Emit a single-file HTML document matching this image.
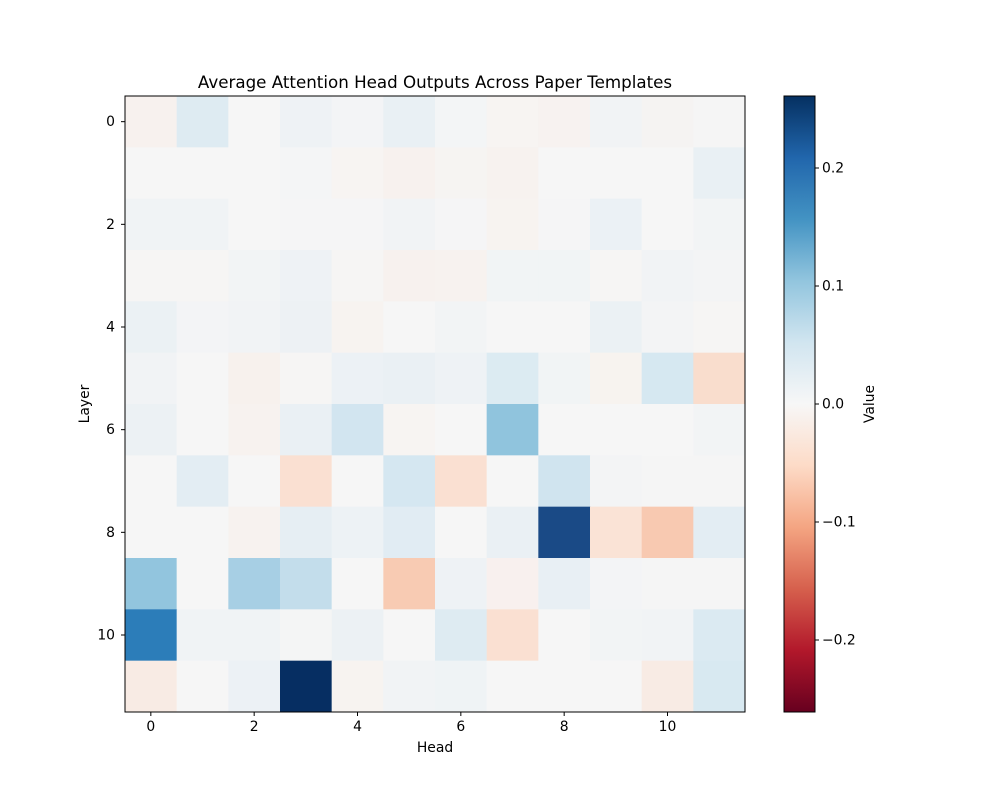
<!DOCTYPE html>
<html><head><meta charset="utf-8"><style>body{margin:0;background:#fff}svg{display:block;font-family:"DejaVu Sans","Liberation Sans",sans-serif}</style></head>
<body>
<svg width="1000" height="800" xmlns="http://www.w3.org/2000/svg">
<defs><linearGradient id="cb" x1="0" y1="1" x2="0" y2="0">
<stop offset="0" stop-color="#67001f"/><stop offset="0.1" stop-color="#b2182b"/><stop offset="0.2" stop-color="#d6604d"/><stop offset="0.3" stop-color="#f4a582"/><stop offset="0.4" stop-color="#fddbc7"/><stop offset="0.5" stop-color="#f7f7f7"/><stop offset="0.6" stop-color="#d1e5f0"/><stop offset="0.7" stop-color="#92c5de"/><stop offset="0.8" stop-color="#4393c3"/><stop offset="0.9" stop-color="#2166ac"/><stop offset="1" stop-color="#053061"/></linearGradient></defs>
<g id="cells"></g>
<rect x="125" y="96" width="620" height="616" fill="none" stroke="#000" stroke-width="1"/>
<rect x="784" y="96" width="31" height="616" fill="url(#cb)" stroke="#000" stroke-width="1"/>
<text x="435" y="88" font-size="16.7" text-anchor="middle">Average Attention Head Outputs Across Paper Templates</text>
<text x="435" y="752" font-size="13.9" text-anchor="middle">Head</text>
<text transform="translate(89,404) rotate(-90)" font-size="13.9" text-anchor="middle">Layer</text>
<text transform="translate(874,404) rotate(-90)" font-size="13.9" text-anchor="middle">Value</text>
<g id="ticks" font-size="13.9" stroke="#000"></g>
</svg>
<script>
const C=[
["f7f1ee","deebf2","f6f6f6","eef2f5","f3f4f6","e9f0f4","f3f5f6","f7f4f2","f7f2f0","f1f3f5","f5f3f2","f5f5f5"],
["f6f6f6","f6f6f6","f6f6f6","f4f5f6","f7f4f2","f7f1ee","f6f4f2","f7f2ef","f6f6f6","f6f6f6","f6f6f6","e9f0f4"],
["f0f3f5","f0f3f5","f6f6f6","f5f5f6","f5f5f6","f1f3f5","f5f5f6","f7f3f0","f5f5f6","ebf1f5","f6f6f6","f2f4f5"],
["f6f5f4","f6f5f4","f2f4f5","eef2f5","f6f5f4","f7f1ee","f7f2ef","f1f4f5","f1f4f5","f6f5f4","f1f3f5","f3f4f5"],
["ebf1f4","f3f4f6","f1f3f5","edf1f4","f7f3f0","f6f6f6","f2f4f5","f6f6f6","f6f6f6","ebf1f4","f3f4f5","f6f5f4"],
["f1f3f5","f6f6f6","f7f1ed","f6f5f4","ecf1f5","eaf0f4","eef2f5","dcebf2","f1f4f5","f7f3ef","d6e8f1","f9ddcd"],
["ecf1f4","f6f6f6","f7f2ef","eaf0f4","d2e5f0","f7f4f2","f6f6f6","90c4dd","f6f6f6","f6f6f6","f6f6f6","f2f4f5"],
["f6f6f6","e3edf3","f6f6f6","fae0d2","f6f6f6","d5e7f1","fae0d2","f6f6f6","d0e4ef","f3f4f5","f5f5f5","f5f5f5"],
["f6f6f6","f6f6f6","f7f2ef","e6eef3","edf2f5","e1ecf3","f6f6f6","eaf0f4","1a4a86","fae3d6","f8c9b1","e3edf3"],
["92c5de","f6f6f6","a7cfe4","c3ddeb","f6f6f6","f8cbb3","eef2f5","f8f0ee","e8eff4","f3f4f6","f5f5f5","f5f5f5"],
["2c7db9","f0f3f5","f0f3f5","f4f5f5","ecf1f4","f6f6f6","deebf2","fae0d2","f6f6f6","f2f4f5","f1f3f5","dbeaf2"],
["f8ebe4","f6f6f6","ecf1f5","062e62","f7f3f0","f1f3f5","eff3f5","f6f6f6","f6f6f6","f6f6f6","f8ebe4","d8e9f1"]];
const cw=620/12,ch=616/12;let h="";
for(let r=0;r<12;r++)for(let c=0;c<12;c++)h+=`<rect x="${125+c*cw}" y="${96+r*ch}" width="${cw+0.5}" height="${ch+0.5}" fill="#${C[r][c]}"/>`;
document.getElementById("cells").innerHTML=h;
let t="";
for(let i=0;i<12;i+=2){const x=125+cw*(i+.5),y=96+ch*(i+.5);
t+=`<line x1="${x}" y1="712" x2="${x}" y2="716"/><text x="${x}" y="731" text-anchor="middle" stroke="none">${i}</text>`;
t+=`<line x1="121" y1="${y}" x2="125" y2="${y}"/><text x="115" y="${y+4.5}" text-anchor="end" stroke="none">${i}</text>`;}
[[0.2,168],[0.1,286],[0.0,404],[-0.1,522],[-0.2,640]].forEach(([v,y])=>{t+=`<line x1="815" y1="${y}" x2="819" y2="${y}"/><text x="822" y="${y+4.5}" stroke="none">${v<0?"\u2212"+(-v).toFixed(1):v.toFixed(1)}</text>`;});
document.getElementById("ticks").innerHTML=t;
</script>
</body></html>
